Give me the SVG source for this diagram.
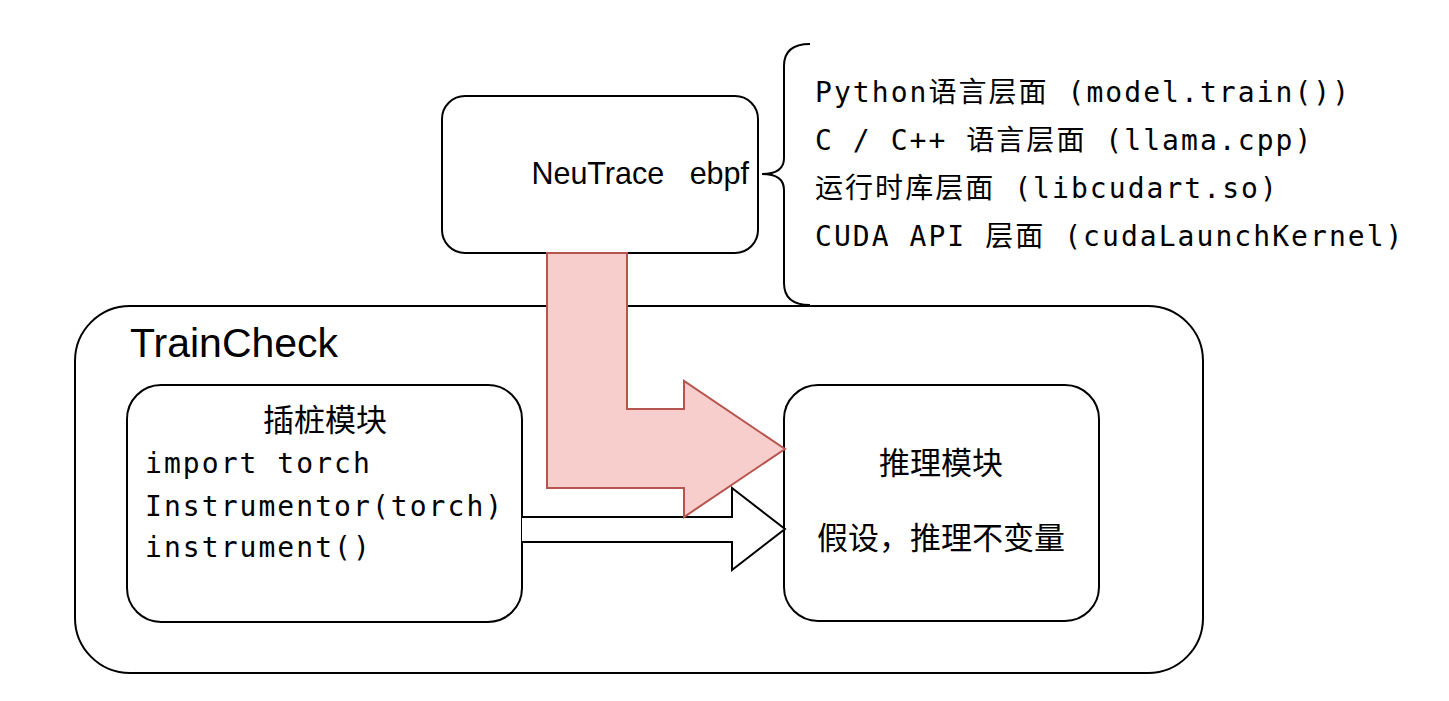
<svg xmlns="http://www.w3.org/2000/svg" width="1449" height="701" viewBox="0 0 1449 701">
  <style>
    .box { fill: #ffffff; stroke: #000000; stroke-width: 2; }
    .sans { font-family: "Liberation Sans", Arial, sans-serif; fill: #000000; }
    .mono { font-family: "DejaVu Sans Mono", "Noto Sans CJK SC", monospace; font-size: 28px; letter-spacing: 2.05px; fill: #000000; }
    .cjk { font-family: "Noto Sans CJK SC", "Noto Sans", sans-serif; font-size: 31px; fill: #000000; }
  </style>
  <rect width="1449" height="701" fill="#ffffff"/>

  <g id="traincheck">
    <rect class="box" x="75" y="306" width="1128" height="367" rx="55" ry="55"/>
    <text class="sans" x="130" y="357" font-size="41">TrainCheck</text>
  </g>

  <g id="neutrace">
    <rect class="box" x="442" y="96" width="316" height="157" rx="23" ry="23"/>
    <text class="sans" x="749" y="184" font-size="30.5" text-anchor="end" xml:space="preserve">NeuTrace   ebpf</text>
  </g>

  <g id="levels">
    <path d="M 810 44 Q 784 44 784 66 L 784 158 Q 784 174 762 174 Q 784 174 784 190 L 784 283 Q 784 305 810 305" fill="none" stroke="#000000" stroke-width="2"/>
    <text class="mono" x="815" y="102">Python语言层面 (model.train())</text>
    <text class="mono" x="815" y="150">C / C++ 语言层面 (llama.cpp)</text>
    <text class="mono" x="815" y="198">运行时库层面 (libcudart.so)</text>
    <text class="mono" x="815" y="246">CUDA API 层面 (cudaLaunchKernel)</text>
  </g>

  <g id="instrument">
    <rect class="box" x="127" y="385" width="395" height="237" rx="34" ry="34"/>
    <text class="cjk" x="325" y="431" text-anchor="middle">插桩模块</text>
    <text class="mono" x="145" y="473">import torch</text>
    <text class="mono" x="145" y="516">Instrumentor(torch)</text>
    <text class="mono" x="145" y="557">instrument()</text>
  </g>

  <g id="inference">
    <rect class="box" x="784" y="385" width="315" height="236" rx="34" ry="34"/>
    <text class="cjk" x="941" y="474" text-anchor="middle">推理模块</text>
    <text class="cjk" x="941" y="549" text-anchor="middle">假设，推理不变量</text>
  </g>

  <g id="connectors">
    <path d="M 522 517 L 732 517 L 732 488 L 785 529 L 732 570 L 732 542 L 522 542" fill="#ffffff" stroke="#000000" stroke-width="2"/>
    <path d="M 547 253 L 627 253 L 627 409 L 684 409 L 684 381 L 785 449 L 684 517 L 684 488 L 547 488 Z" fill="#f8cecc" stroke="#b85450" stroke-width="2"/>
  </g>
</svg>
